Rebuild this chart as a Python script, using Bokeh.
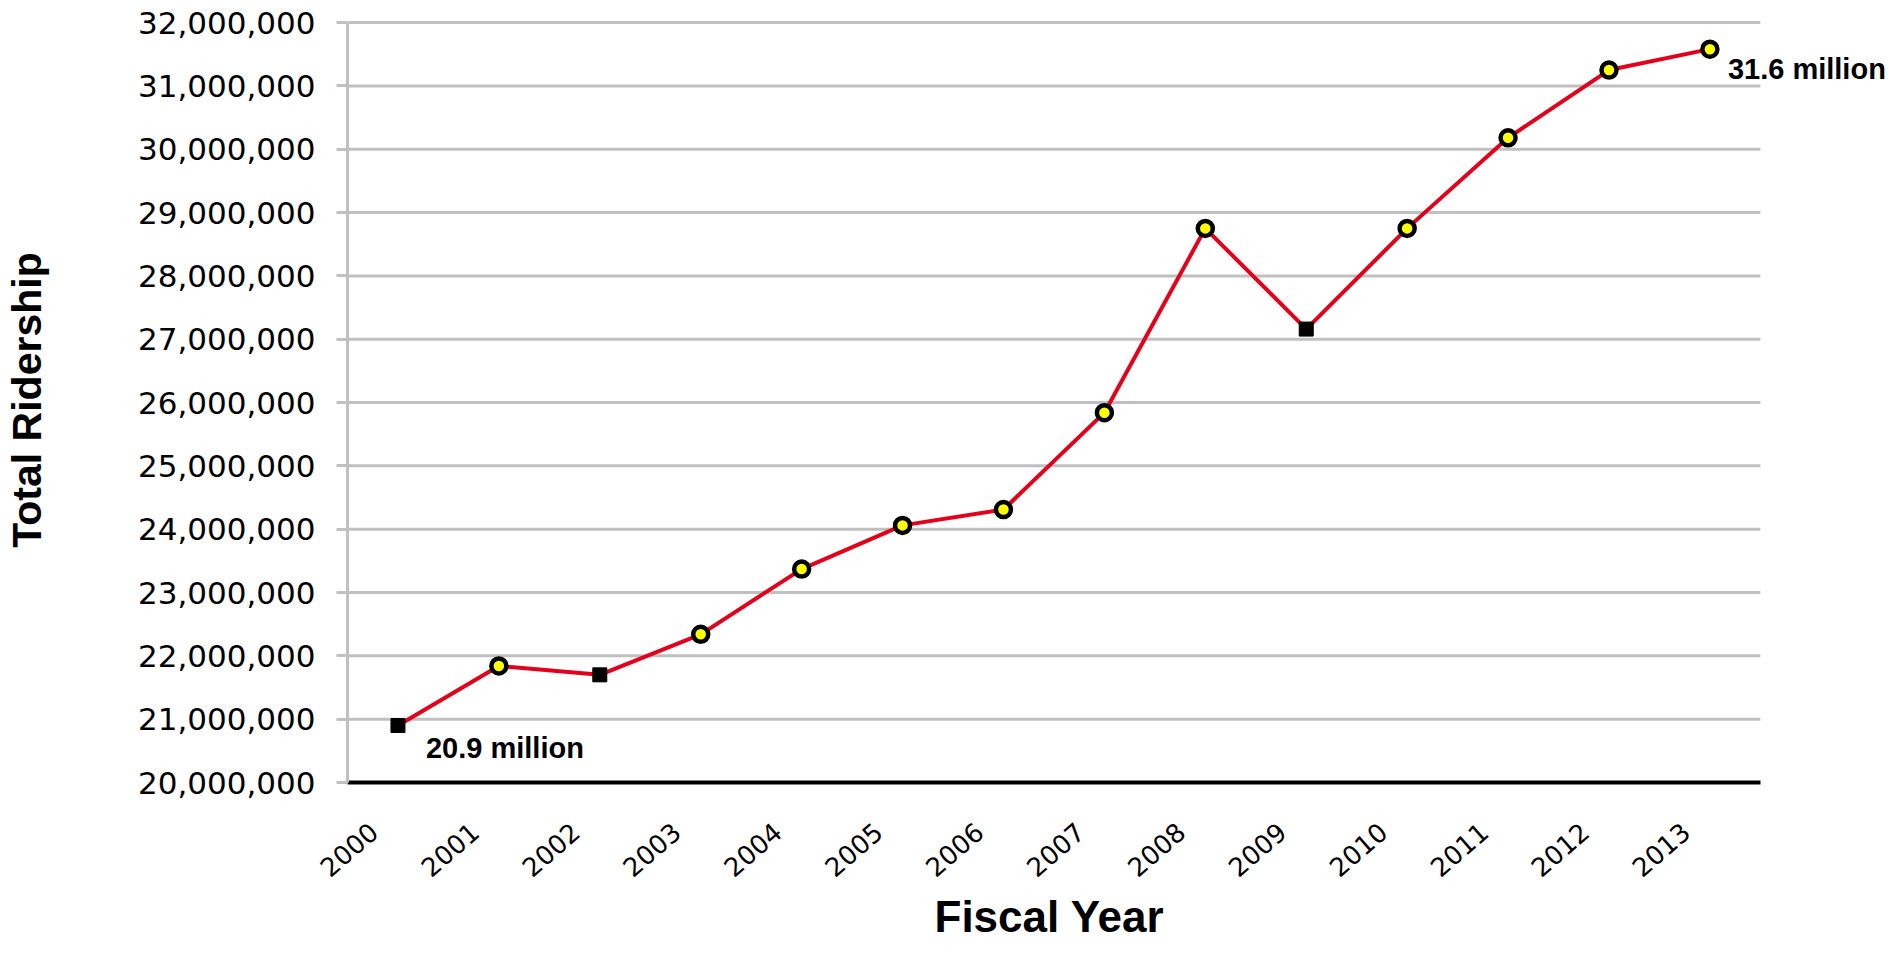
import math
from bokeh.plotting import figure
from bokeh.models import Range1d, FixedTicker, NumeralTickFormatter, Label, Title
from bokeh.embed import file_html
from bokeh.resources import INLINE

# ---- data ----
years = [2000, 2001, 2002, 2003, 2004, 2005, 2006, 2007, 2008, 2009, 2010, 2011, 2012, 2013]
ridership = [20_900_000, 21_840_000, 21_700_000, 22_340_000, 23_370_000, 24_060_000, 24_310_000,
             25_840_000, 28_750_000, 27_160_000, 28_750_000, 30_180_000, 31_250_000, 31_580_000]
year_labels = [str(y) for y in years]
y_ticks = [20_000_000, 21_000_000, 22_000_000, 23_000_000, 24_000_000, 25_000_000, 26_000_000,
           27_000_000, 28_000_000, 29_000_000, 30_000_000, 31_000_000, 32_000_000]
first_label = "20.9 million"
last_label = "31.6 million"
x_title = "Fiscal Year"
y_title = "Total Ridership"

# points that did not rise over the previous year are drawn as squares
up_x, up_y, dn_x, dn_y = [], [], [], []
for i, (yr, v) in enumerate(zip(years, ridership)):
    if i > 0 and v > ridership[i - 1]:
        up_x.append(yr); up_y.append(v)
    else:
        dn_x.append(yr); dn_y.append(v)

GRID = "#c0c0c0"
LABEL_SHIFT = 0.24          # tick labels sit slightly left of the category centre
X_LO = years[0] - 0.5       # category band edges
X_HI = years[-1] + 0.5
RIGHT_ROOM = 1.24           # free room right of the plot for the end label
TOP_ROOM = 80_000           # a little room above the top gridline

p = figure(width=1885, height=945, output_backend="svg", toolbar_location=None,
           x_range=Range1d(X_LO, X_HI + RIGHT_ROOM),
           y_range=Range1d(y_ticks[0], y_ticks[-1] + TOP_ROOM),
           min_border_left=347, min_border_right=0, min_border_top=17, min_border_bottom=163)
p.outline_line_color = None
p.background_fill_color = "white"
p.border_fill_color = "white"
p.xgrid.visible = False
p.ygrid.visible = False

# horizontal gridlines limited to the category band
p.segment(x0=[X_LO] * (len(y_ticks) - 1), x1=[X_HI] * (len(y_ticks) - 1),
          y0=y_ticks[1:], y1=y_ticks[1:], line_color=GRID, line_width=3)

# x axis
x_ticks = [yr - LABEL_SHIFT for yr in years]
p.xaxis.ticker = FixedTicker(ticks=x_ticks)
p.xaxis.major_label_overrides = {t: lab for t, lab in zip(x_ticks, year_labels)}
p.xaxis.major_label_orientation = math.radians(41)
p.xaxis.major_label_text_font = "DejaVu Sans"
p.xaxis.major_label_text_font_size = "26px"
p.xaxis.major_label_text_color = "black"
p.xaxis.major_label_standoff = 45
p.xaxis.major_tick_out = 0
p.xaxis.major_tick_in = 0
p.xaxis.major_tick_line_color = None
p.xaxis.minor_tick_line_color = None
p.xaxis.minor_tick_out = 0
p.xaxis.axis_line_color = "black"
p.xaxis.axis_line_width = 4
p.xaxis.bounds = (X_LO, X_HI)

# x title under the category band (not centred on the wider frame)
p.add_layout(Title(text=x_title, align="left", offset=587, standoff=0,
                   text_font="Liberation Sans", text_font_style="bold",
                   text_font_size="44px", text_color="black"), "below")

# y axis
p.yaxis.ticker = FixedTicker(ticks=y_ticks)
p.yaxis.formatter = NumeralTickFormatter(format="0,0")
p.yaxis.bounds = (y_ticks[0], y_ticks[-1])
p.yaxis.major_label_text_font = "DejaVu Sans"
p.yaxis.major_label_text_font_size = "31px"
p.yaxis.major_label_text_color = "black"
p.yaxis.major_label_standoff = 21
p.yaxis.major_tick_out = 11
p.yaxis.major_tick_in = 0
p.yaxis.major_tick_line_color = GRID
p.yaxis.major_tick_line_width = 3
p.yaxis.minor_tick_line_color = None
p.yaxis.axis_line_color = GRID
p.yaxis.axis_line_width = 3
p.yaxis.axis_label = y_title
p.yaxis.axis_label_text_font = "Liberation Sans"
p.yaxis.axis_label_text_font_style = "bold"
p.yaxis.axis_label_text_font_size = "41px"
p.yaxis.axis_label_text_color = "black"
p.yaxis.axis_label_standoff = 85

# series
p.line(years, ridership, line_color="#e3001b", line_width=4)
p.scatter(up_x, up_y, marker="circle", size=15, fill_color="#ffff00",
          line_color="black", line_width=4.5)
p.scatter(dn_x, dn_y, marker="square", size=14, fill_color="black", line_color="black")

# annotations
p.add_layout(Label(x=years[0], y=ridership[0], text=first_label, x_offset=28, y_offset=-22,
                   text_font="Liberation Sans", text_font_style="bold", text_font_size="29px",
                   text_color="black", text_baseline="alphabetic"))
p.add_layout(Label(x=years[-1], y=ridership[-1], text=last_label, x_offset=18, y_offset=-20,
                   text_font="Liberation Sans", text_font_style="bold", text_font_size="29px",
                   text_color="black", text_baseline="alphabetic"))

open("out.html", "w").write(file_html(p, INLINE))
